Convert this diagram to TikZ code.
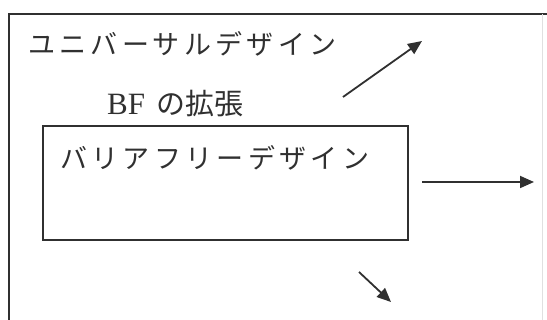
\documentclass[tikz,border=0pt]{standalone}
\usepackage{fontspec}
\setmainfont{Liberation Serif}
\newfontfamily\jp{Noto Sans CJK JP}[LetterSpace=16]
\newfontfamily\jpn{Noto Sans CJK JP}
\usetikzlibrary{arrows.meta}
\definecolor{ink}{HTML}{303030}
\tikzset{
  frameline/.style={draw=ink, line width=1.8pt},
  label/.style={inner sep=0pt, anchor=west, text=ink},
  arrowline/.style={draw=ink, line width=1.8pt, -{Triangle[length=14pt,width=12pt]}}
}
\begin{document}
\begin{tikzpicture}[x=1pt,y=-1pt]
\useasboundingbox (0,0) rectangle (547,320);
% outer frame
\coordinate (otl) at (9,14);
\coordinate (otr) at (547,14);
\coordinate (obl) at (9,320);
\coordinate (orr) at (542,14);
\coordinate (orb) at (542,320);
\draw[frameline] (otr) -- (otl) -- (obl);
\draw[draw=ink!15, line width=0.8pt] (orr) -- (orb);
% texts
\node[label] (ud) at (28,44) {\fontsize{27}{30}\selectfont\jp ユニバーサルデザイン};
\node[label] (bf) at (107,104) {\fontsize{31}{32}\selectfont BF\hspace{11pt}{\fontsize{29}{30}\selectfont\jpn の拡張}};
% inner box
\node[frameline, minimum width=365pt, minimum height=114pt, inner sep=0pt, anchor=north west] (bfd) at (42,125) {};
\node[label] (bft) at (60,158) {\fontsize{27}{30}\selectfont\jp バリアフリーデザイン};
% arrows
\coordinate (a1s) at (343,97);
\coordinate (a1e) at (422,41);
\coordinate (a2s) at (422,182);
\coordinate (a2e) at (534,182);
\coordinate (a3s) at (359,272);
\coordinate (a3e) at (391,302);
\draw[arrowline] (a1s) -- (a1e);
\draw[arrowline] (a2s) -- (a2e);
\draw[arrowline] (a3s) -- (a3e);
\end{tikzpicture}
\end{document}
